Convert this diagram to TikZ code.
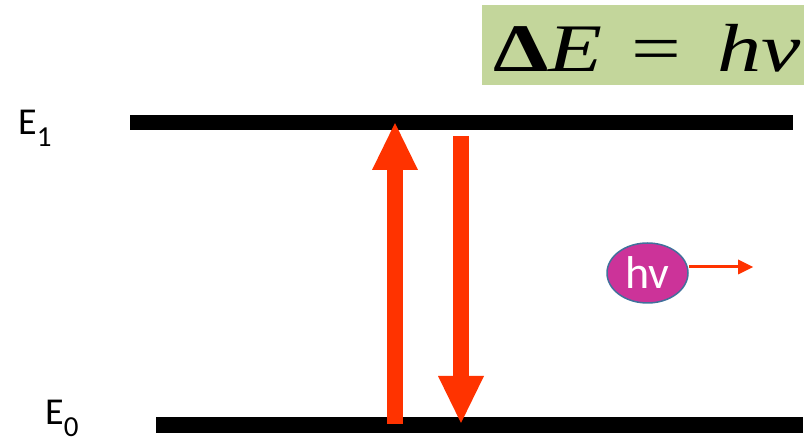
\documentclass[tikz,border=0pt]{standalone}
\usepackage{fontspec}
\setmainfont{Carlito}
\newfontfamily\formulafont{Liberation Serif}
\usepackage{xcolor}
\usepackage{tikz}
\usetikzlibrary{arrows.meta,shapes.geometric,positioning}

\definecolor{levelred}{RGB}{255,51,0}
\definecolor{boxgreen}{RGB}{195,214,155}
\definecolor{photonfill}{RGB}{204,51,153}
\definecolor{photonline}{RGB}{65,113,156}

\begin{document}
\begin{tikzpicture}[
    x=1pt, y=-1pt,
    level/.style={line width=15.5pt},
    label/.style={anchor=base west, inner sep=0pt, font=\fontsize{38}{40}\selectfont},
    jump/.style={levelred, line width=16pt, -{Triangle[length=47pt, width=46pt, line width=0pt]}},
    photon/.style={ellipse, draw=photonline, line width=1.5pt, fill=photonfill, text=white,
        minimum width=81pt, minimum height=60pt, inner sep=0pt, font=\fontsize{46}{48}\selectfont},
    ray/.style={levelred, line width=3pt, -{Triangle[length=15pt, width=15pt, line width=0pt]}}
]
\useasboundingbox (0,0) rectangle (804,443);

% formula
\fill[boxgreen] (482,5) rectangle (804,85);
\node[anchor=base west, inner sep=0pt, font=\formulafont\fontsize{68}{70}\selectfont] (formula) at (493,72)
    {\scalebox{1.3}[1]{{\bfseries Δ}\textit{E}\hspace{22pt}=\hspace{28pt}\textit{hv}}};

% energy levels
\draw[level] (130,122.5) -- (793,122.5);
\draw[level] (156,425) -- (803,425);
\node[label] (e1) at (18,135) {E\raisebox{-12pt}{\fontsize{29}{30}\selectfont 1}};
\node[label] (e0) at (45,425) {E\raisebox{-12pt}{\fontsize{29}{30}\selectfont 0}};

% transitions
\coordinate (upfrom) at (395,424);
\coordinate (upto) at (395,123);
\coordinate (downfrom) at (461,136);
\coordinate (downto) at (461,423);
\draw[jump] (upfrom) -- (upto);
\draw[jump] (downfrom) -- (downto);

% emitted photon
\node[photon] (hv) at (647.5,273) {hv};
\coordinate (out) at (753,267);
\draw[ray] (hv.east |- out) -- (out);
\end{tikzpicture}
\end{document}
